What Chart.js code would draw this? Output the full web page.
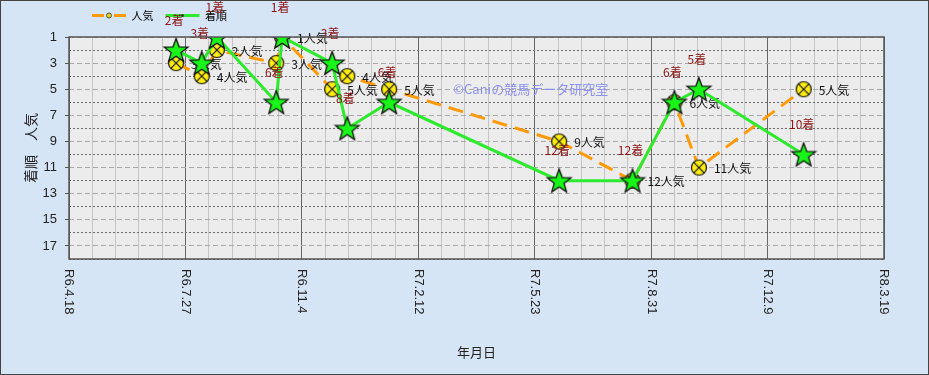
<!DOCTYPE html>
<html>
<head>
<meta charset="utf-8">
<script src="https://cdn.jsdelivr.net/npm/chart.js@4.4.1/dist/chart.umd.min.js"></script>
<style>
html, body { margin: 0; padding: 0; background: #d6e5f5; }
canvas { display: block; }
</style>
</head>
<body>
<canvas id="chart" width="929" height="375"></canvas>
<script>
// レース日（令和表記）
var raceDates = ['R6.7.19', 'R6.8.10', 'R6.8.23', 'R6.10.13', 'R6.10.18', 'R6.11.30', 'R6.12.13',
                 'R7.1.18', 'R7.6.13', 'R7.8.15', 'R7.9.20', 'R7.10.11', 'R8.1.9'];
// 人気
var ninki = [3, 4, 2, 3, 1, 5, 4, 5, 9, 12, 6, 11, 5];
// 着順
var chakujun = [2, 3, 1, 6, 1, 3, 8, 6, 12, 12, 6, 5, 10];
// 横軸の目盛
var xTickLabels = ['R6.4.18', 'R6.7.27', 'R6.11.4', 'R7.2.12', 'R7.5.23', 'R7.8.31', 'R7.12.9', 'R8.3.19'];

var JP = '"Noto Sans CJK JP", sans-serif';
var baseDay = Date.UTC(2024, 3, 18);

// 令和の日付 -> 基準日からの日数
function reiwaToDays(s) {
    var p = s.slice(1).split('.');
    var t = Date.UTC(2018 + Number(p[0]), Number(p[1]) - 1, Number(p[2]));
    return Math.round((t - baseDay) / 86400000);
}

var raceDays = raceDates.map(reiwaToDays);
var xMin = reiwaToDays(xTickLabels[0]);
var xMax = reiwaToDays(xTickLabels[xTickLabels.length - 1]);

// マーカー画像
function makeStar() {
    var c = document.createElement('canvas');
    c.width = 28; c.height = 28;
    var g = c.getContext('2d');
    g.beginPath();
    for (var i = 0; i < 10; i++) {
        var r = (i % 2 === 0) ? 12.5 : 5.2;
        var a = -Math.PI / 2 + i * Math.PI / 5;
        var px = 14 + r * Math.cos(a);
        var py = 15 + r * Math.sin(a);
        if (i === 0) g.moveTo(px, py); else g.lineTo(px, py);
    }
    g.closePath();
    g.fillStyle = '#19f519';
    g.fill();
    g.lineWidth = 1.3;
    g.strokeStyle = '#111';
    g.stroke();
    return c;
}

function makeCircle() {
    var c = document.createElement('canvas');
    c.width = 18; c.height = 18;
    var g = c.getContext('2d');
    g.beginPath();
    g.arc(9, 9, 7.5, 0, Math.PI * 2);
    g.fillStyle = '#ffee10';
    g.fill();
    g.lineWidth = 1.2;
    g.strokeStyle = '#111';
    g.stroke();
    var d = 7.5 * Math.SQRT1_2;
    g.beginPath();
    g.moveTo(9 - d, 9 - d); g.lineTo(9 + d, 9 + d);
    g.moveTo(9 + d, 9 - d); g.lineTo(9 - d, 9 + d);
    g.stroke();
    return c;
}

var starImg = makeStar();
var circleImg = makeCircle();

var bgPlugin = {
    id: 'bg',
    beforeDraw: function(chart) {
        var ctx = chart.ctx, a = chart.chartArea;
        ctx.save();
        ctx.fillStyle = '#d6e5f5';
        ctx.fillRect(0, 0, chart.width, chart.height);
        ctx.fillStyle = '#ececec';
        ctx.fillRect(a.left, a.top, a.right - a.left, a.bottom - a.top);
        ctx.restore();
    },
    beforeDatasetsDraw: function(chart) {
        // 透かし文字
        var ctx = chart.ctx;
        var x = chart.scales.x.getPixelForValue(330);
        var y = chart.scales.y.getPixelForValue(5);
        ctx.save();
        ctx.font = '13px ' + JP;
        ctx.fillStyle = '#8e8ef2';
        ctx.textBaseline = 'middle';
        ctx.fillText('©Caniの競馬データ研究室', x, y);
        ctx.restore();
    },
    afterDatasetDraw: function(chart, args) {
        if (args.index !== 0) return;
        // 人気ラベル
        var ctx = chart.ctx;
        ctx.save();
        ctx.font = '12px ' + JP;
        ctx.fillStyle = '#111';
        ctx.textAlign = 'left';
        ctx.textBaseline = 'middle';
        args.meta.data.forEach(function(pt, i) {
            ctx.fillText(ninki[i] + '人気', pt.x + 15, pt.y + 1);
        });
        ctx.restore();
    },
    afterDatasetsDraw: function(chart) {
        // 着順ラベル
        var ctx = chart.ctx;
        ctx.save();
        ctx.font = '12px ' + JP;
        ctx.fillStyle = '#8b1414';
        ctx.textAlign = 'center';
        ctx.textBaseline = 'middle';
        chart.getDatasetMeta(1).data.forEach(function(pt, i) {
            ctx.fillText(chakujun[i] + '着', pt.x - 2, pt.y - 30);
        });
        ctx.restore();
    },
    afterDraw: function(chart) {
        var ctx = chart.ctx, a = chart.chartArea, xs = chart.scales.x;
        ctx.save();
        ctx.strokeStyle = '#555';
        ctx.lineWidth = 1.5;
        ctx.strokeRect(a.left, a.top, a.right - a.left, a.bottom - a.top);
        // 横軸ラベル（縦書き回転）
        ctx.font = '13px "Liberation Sans", Arial, sans-serif';
        ctx.fillStyle = '#222';
        ctx.textAlign = 'left';
        ctx.textBaseline = 'middle';
        xTickLabels.forEach(function(lb) {
            var px = xs.getPixelForValue(reiwaToDays(lb));
            ctx.save();
            ctx.translate(px, a.bottom + 10);
            ctx.rotate(Math.PI / 2);
            ctx.fillText(lb, 0, 0);
            ctx.restore();
        });
        // 凡例のマーカー
        var boxes = chart.legend.legendHitBoxes || [];
        if (boxes.length === 2) {
            var b0 = boxes[0], b1 = boxes[1];
            ctx.lineWidth = 0.8;
            ctx.strokeStyle = '#333';
            ctx.fillStyle = '#e6d21a';
            ctx.beginPath();
            ctx.arc(b0.left + 17, b0.top + b0.height / 2, 2.5, 0, Math.PI * 2);
            ctx.fill();
            ctx.stroke();
            ctx.fillStyle = '#333';
            ctx.beginPath();
            ctx.arc(b1.left + 17, b1.top + b1.height / 2, 1.5, 0, Math.PI * 2);
            ctx.fill();
        }
        ctx.strokeStyle = '#444';
        ctx.lineWidth = 1;
        ctx.strokeRect(0.5, 0.5, chart.width - 1, chart.height - 1);
        ctx.restore();
    },
    afterLayout: function(chart) {
        chart.legend.left = 80;
        chart.legend.top -= 6;
        chart.legend.bottom -= 6;
    }
};

var ctx = document.getElementById('chart').getContext('2d');

new Chart(ctx, {
    type: 'line',
    data: {
        datasets: [
            {
                label: '人気',
                data: raceDays.map(function(d, i) { return { x: d, y: ninki[i] }; }),
                borderColor: '#ff9a0a',
                backgroundColor: '#ff9a0a',
                borderWidth: 3,
                borderDash: [15, 8],
                pointStyle: circleImg,
                pointRadius: 8,
                tension: 0,
                order: 2,
            },
            {
                label: '着順',
                data: raceDays.map(function(d, i) { return { x: d, y: chakujun[i] }; }),
                borderColor: '#2eea2e',
                backgroundColor: '#2eea2e',
                borderWidth: 3,
                pointStyle: starImg,
                pointRadius: 12,
                tension: 0,
                order: 1,
            },
        ],
    },
    options: {
        responsive: false,
        animation: false,
        devicePixelRatio: 1,
        layout: { padding: { top: 4, right: 45, bottom: 0, left: 0 } },
        plugins: {
            legend: {
                position: 'top',
                align: 'start',
                fullSize: false,
                labels: {
                    boxWidth: 34,
                    boxHeight: 0,
                    padding: 12,
                    color: '#333',
                    font: { size: 11, family: JP },
                    generateLabels: function(chart) {
                        return chart.data.datasets.map(function(ds, i) {
                            return {
                                text: ds.label,
                                fillStyle: 'rgba(0,0,0,0)',
                                strokeStyle: ds.borderColor,
                                lineWidth: 3,
                                lineDash: i === 0 ? [12, 22] : [],
                                datasetIndex: i,
                            };
                        });
                    },
                },
            },
            tooltip: { enabled: false },
        },
        scales: {
            x: {
                type: 'linear',
                min: xMin,
                max: xMax,
                ticks: { display: false, stepSize: 20 },
                grid: {
                    drawTicks: false,
                    color: function(c) {
                        return (c.tick && c.tick.value % 100 === 0) ? '#666' : '#c4c4c4';
                    },
                    lineWidth: 1,
                },
                border: { display: false },
                title: {
                    display: true,
                    text: '年月日',
                    color: '#222',
                    font: { size: 13, family: JP },
                    padding: { top: 0, bottom: 15 },
                },
                afterFit: function(scale) { scale.height = 116; },
            },
            y: {
                type: 'linear',
                reverse: true,
                min: 1,
                max: 18,
                ticks: {
                    stepSize: 1,
                    autoSkip: false,
                    padding: 8,
                    color: '#222',
                    font: { size: 13, family: '"Liberation Sans", Arial, sans-serif' },
                    callback: function(v) { return v % 2 === 1 ? v : ''; },
                },
                grid: {
                    tickLength: 4,
                    color: function(c) {
                        return (c.tick && c.tick.value % 2 === 0) ? '#6a6a6a' : '#a8a8a8';
                    },
                    tickColor: function(c) {
                        return (c.tick && c.tick.value % 2 === 1) ? '#555' : 'rgba(0,0,0,0)';
                    },
                },
                border: {
                    display: false,
                    dash: function(c) {
                        return (c.tick && c.tick.value % 2 === 0) ? [2, 2] : [5, 3];
                    },
                },
                title: {
                    display: true,
                    text: '着順　人気',
                    color: '#222',
                    font: { size: 14, family: JP },
                    padding: { top: 22, bottom: 0 },
                },
                afterFit: function(scale) { scale.width = 69; },
            },
        },
    },
    plugins: [bgPlugin],
});
</script>
</body>
</html>
